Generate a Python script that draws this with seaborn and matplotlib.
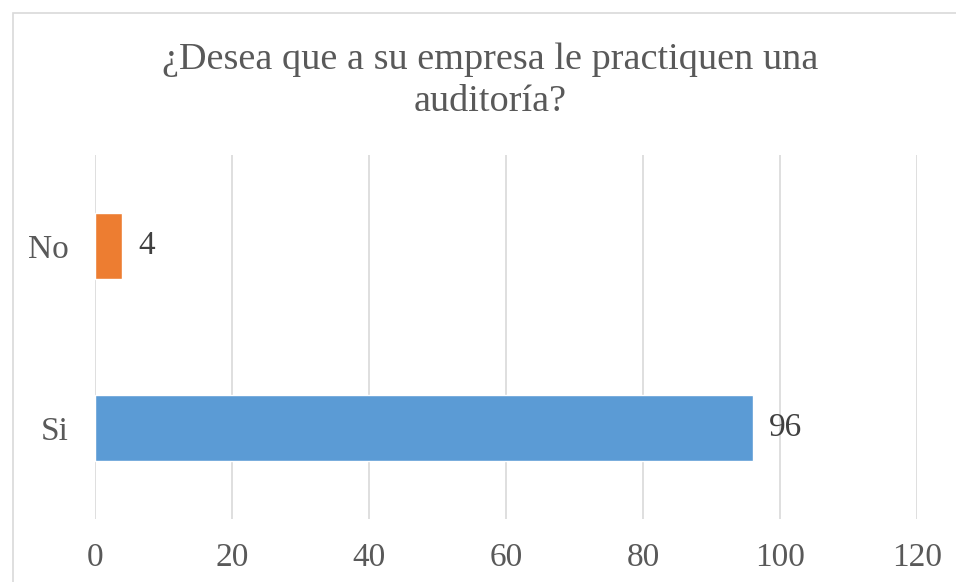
import matplotlib
matplotlib.use("Agg")
import matplotlib.pyplot as plt
import seaborn as sns
import pandas as pd
from matplotlib.patches import Rectangle

categories = ["No", "Si"]
values = [4, 96]
colors = ["#ED7D31", "#5B9BD5"]
xticks = [0, 20, 40, 60, 80, 100, 120]
title = "¿Desea que a su empresa le practiquen una\nauditoría?"

sns.set_theme(style="white")
plt.rcParams["font.family"] = ["Liberation Serif", "DejaVu Serif"]

fig = plt.figure(figsize=(9.56, 5.82), dpi=100)
fig.patch.set_facecolor("white")
fig.patches.append(Rectangle((13/956, -0.1), 1.2, 1 - 13/582 + 0.1, transform=fig.transFigure,
                             fill=False, edgecolor="#d9d9d9", linewidth=1.2))

ax = fig.add_axes([95/956, 1 - 519/582, (917 - 95)/956, (519 - 155)/582])
df = pd.DataFrame({"cat": categories, "val": values})
sns.barplot(data=df, x="val", y="cat", hue="cat", palette=colors, order=categories,
            orient="h", width=0.36, legend=False, ax=ax, saturation=1)

ax.set_xlim(0, 120)
ax.set_xticks(xticks)
ax.set_xticklabels([str(t) for t in xticks])
ax.grid(axis="x", color="#d9d9d9", linewidth=1.2)
ax.set_axisbelow(True)
for s in ax.spines.values():
    s.set_visible(False)
ax.tick_params(axis="both", length=0, labelsize=24, colors="#595959")
ax.tick_params(axis="x", pad=17)
ax.tick_params(axis="y", pad=19)
ax.set_xlabel("")
ax.set_ylabel("")

for i, v in enumerate(values):
    ax.text(v + 2.4, i, str(v), va="center", ha="left", fontsize=24, color="#404040")

fig.text(490/956, 1 - 81/582, title, ha="center", va="center", fontsize=27.5,
         color="#595959", linespacing=1.3)

fig.savefig("out.png", dpi=100)
